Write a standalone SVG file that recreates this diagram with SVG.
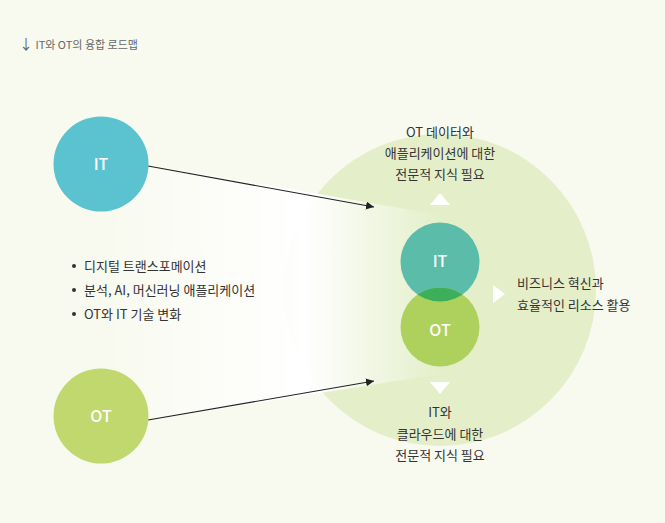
<svg xmlns="http://www.w3.org/2000/svg" width="665" height="523" viewBox="0 0 665 523">
<defs>
<style>
text{font-family:"Noto Sans CJK KR","Noto Sans",sans-serif;fill:#333;font-size:13px}
.c{text-anchor:middle}
.w{fill:#fff;font-size:16px;font-weight:500;text-anchor:middle}
.conn{stroke:#222;stroke-width:1.1;fill:none;marker-end:url(#ah)}
.tri{fill:#fff}
</style>
<marker id="ah" viewBox="0 0 10 10" refX="10" refY="5" markerWidth="8" markerHeight="8" markerUnits="userSpaceOnUse" orient="auto">
<path d="M0,0 L10,5 L0,10 z" fill="#222"/>
</marker>
<linearGradient id="fade" x1="100" y1="0" x2="440" y2="0" gradientUnits="userSpaceOnUse">
<stop offset="0" stop-color="#fff" stop-opacity="0"/>
<stop offset="0.6" stop-color="#fff" stop-opacity="1"/>
<stop offset="1" stop-color="#fff" stop-opacity="0"/>
</linearGradient>
<clipPath id="itclip"><circle cx="440" cy="262" r="39.5"/></clipPath>
</defs>
<rect width="665" height="523" fill="#f8faef"/>
<g id="title"><text x="19" y="49" style="font-size:11px;fill:#666"><tspan style="font-size:14px">↓</tspan> IT와 OT의 융합 로드맵</text></g>
<g id="big-circle"><circle cx="440" cy="290" r="156" fill="#e4efca"/></g>
<polygon points="100,156 440,215 440,374 100,428" fill="url(#fade)"/>
<g id="connectors">
<line class="conn" x1="148" y1="166" x2="374" y2="207"/>
<line class="conn" x1="148" y1="420" x2="374" y2="381"/>
</g>
<g id="node-it"><circle cx="101" cy="164" r="47.5" fill="#5bc3cf"/><text class="w" x="101" y="170">IT</text></g>
<g id="node-ot"><circle cx="101" cy="416" r="47.5" fill="#c0d86e"/><text class="w" x="101" y="422">OT</text></g>
<g id="bullets">
<circle cx="74" cy="266" r="2" fill="#333"/><text x="84" y="271">디지털 트랜스포메이션</text>
<circle cx="74" cy="290" r="2" fill="#333"/><text x="84" y="295">분석, AI, 머신러닝 애플리케이션</text>
<circle cx="74" cy="314" r="2" fill="#333"/><text x="84" y="319">OT와 IT 기술 변화</text>
</g>
<g id="inner-it"><circle cx="440" cy="262" r="39.5" fill="#5bbcaa"/><text class="w" x="440" y="267">IT</text></g>
<g id="inner-ot"><circle cx="440" cy="327" r="39.5" fill="#aed15e"/><circle cx="440" cy="327" r="39.5" fill="#3daf5a" clip-path="url(#itclip)"/><text class="w" x="440" y="336">OT</text></g>
<g id="label-top">
<polygon class="tri" points="440,193 450,205 430,205"/>
<text class="c" x="440" y="137">OT 데이터와</text>
<text class="c" x="440" y="158">애플리케이션에 대한</text>
<text class="c" x="440" y="179">전문적 지식 필요</text>
</g>
<g id="label-bottom">
<polygon class="tri" points="430,382 450,382 440,394"/>
<text class="c" x="440" y="417">IT와</text>
<text class="c" x="440" y="439">클라우드에 대한</text>
<text class="c" x="440" y="460">전문적 지식 필요</text>
</g>
<g id="label-right">
<polygon class="tri" points="493,285 505,294 493,303"/>
<text x="517" y="288">비즈니스 혁신과</text>
<text x="517" y="310">효율적인 리소스 활용</text>
</g>
</svg>
